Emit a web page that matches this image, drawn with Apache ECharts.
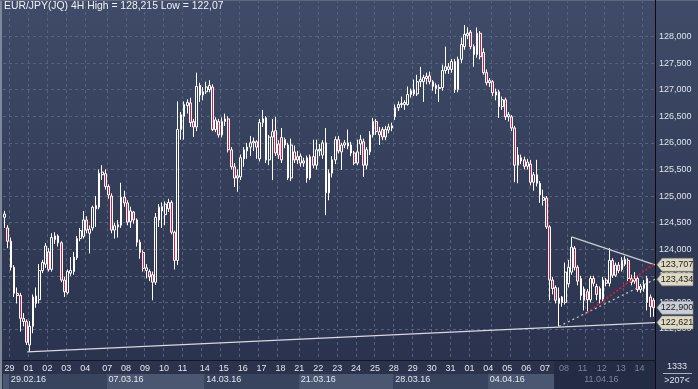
<!DOCTYPE html>
<html><head><meta charset="utf-8">
<script src="https://cdn.jsdelivr.net/npm/echarts@6/dist/echarts.min.js"></script>
<style>
html,body{margin:0;padding:0;width:698px;height:389px;overflow:hidden;background:linear-gradient(#3f4b68,#29314b);}
#c{width:698px;height:389px;}
</style></head><body><div id="c"></div>
<script>
// ---- data ----
const days = ['29.02.16','01.03.16','02.03.16','03.03.16','04.03.16','07.03.16','08.03.16','09.03.16','10.03.16','11.03.16',
  '14.03.16','15.03.16','16.03.16','17.03.16','18.03.16','21.03.16','22.03.16','23.03.16','24.03.16','25.03.16',
  '28.03.16','29.03.16','30.03.16','31.03.16','01.04.16','04.04.16','05.04.16','06.04.16','07.04.16','08.04.16',
  '11.04.16','12.04.16','13.04.16','14.04.16'];
const barsPerDay = [6,6,6,6,7,6,6,6,6,7,6,6,6,6,6,6,6,6,6,6,6,6,6,6,6,6,6,6,6,6,6,6,6,7];
// [open, close, low, high]
const candles = [
[124.60,124.66,124.40,124.72],[124.40,124.15,124.02,124.45],[124.15,123.66,123.60,124.22],[123.66,123.17,123.10,123.70],
[123.17,123.13,122.98,123.28],[123.13,122.70,122.45,123.18],[122.70,122.64,122.55,122.80],[122.64,122.25,122.20,122.68],
[122.20,122.55,122.07,122.65],[122.55,123.10,122.42,123.15],[122.98,123.12,122.90,123.28],[123.05,123.60,122.98,123.72],
[123.60,123.75,123.55,123.80],[123.72,124.06,123.65,124.12],[123.95,123.62,123.58,124.02],[123.62,124.22,123.58,124.30],
[124.18,124.25,124.10,124.32],[124.25,124.12,124.05,124.28],[124.12,123.42,123.38,124.15],[123.42,123.20,123.10,123.48],
[123.18,123.58,123.15,123.62],[123.55,123.60,123.50,123.85],[123.58,123.85,123.52,123.95],[123.84,124.20,123.80,124.25],
[124.20,124.35,124.15,124.40],[124.24,124.55,124.20,124.72],[124.55,124.36,124.30,124.62],[124.30,124.38,123.92,124.45],
[124.40,124.79,124.35,124.82],[124.76,124.82,124.42,125.00],[124.79,125.43,124.75,125.50],[125.40,125.45,125.30,125.58],
[125.42,125.18,125.12,125.50],[125.18,125.02,124.95,125.22],[125.00,124.36,124.30,125.05],[124.36,124.44,124.20,124.50],
[124.42,124.46,124.22,124.55],[124.45,124.98,124.40,125.25],[124.98,124.87,124.80,125.10],[124.87,124.51,124.45,124.92],
[124.52,124.72,124.40,124.80],[124.70,124.55,124.48,124.72],[124.55,124.13,124.05,124.58],[124.13,123.94,123.82,124.18],
[123.94,123.64,123.58,123.98],[123.60,123.65,123.45,123.72],[123.58,123.48,123.40,123.62],[123.52,123.38,123.04,123.58],
[123.38,124.60,123.33,124.68],[124.55,124.79,124.42,124.85],[124.72,124.80,124.40,124.88],[124.65,124.85,124.45,124.90],
[124.76,124.88,124.70,124.95],[124.88,124.32,124.28,124.92],[124.32,123.79,123.62,124.35],[123.79,126.25,123.70,126.78],
[126.25,126.53,126.06,126.58],[126.50,126.72,126.06,126.78],[126.70,126.76,126.55,126.82],[126.75,126.38,126.30,126.85],
[126.40,126.30,126.11,126.45],[126.30,127.06,126.22,127.32],[127.08,126.90,126.77,127.13],[126.90,126.96,126.80,127.05],
[126.96,127.05,126.92,127.15],[127.00,127.08,126.95,127.18],[127.05,126.25,126.22,127.10],[126.25,126.43,126.20,126.48],
[126.40,126.15,126.10,126.45],[126.15,126.40,126.10,126.48],[126.40,126.45,126.32,126.55],[126.45,125.87,125.82,126.50],
[125.87,125.55,125.50,125.92],[125.55,125.34,125.17,125.62],[125.34,125.38,125.08,125.50],[125.36,125.72,125.30,125.78],
[125.70,125.87,125.55,125.92],[125.85,125.92,125.70,126.00],[125.92,126.00,125.75,126.13],[126.00,126.03,125.85,126.10],
[126.02,125.92,125.70,126.05],[125.70,126.38,125.65,126.45],[126.38,126.45,126.30,126.62],[126.47,125.68,125.62,126.50],
[125.68,126.11,125.58,126.15],[126.11,126.21,125.30,126.45],[126.23,125.81,125.75,126.49],[125.98,125.77,125.70,126.05],
[126.10,125.68,125.62,126.28],[125.96,126.06,125.90,126.10],[125.96,125.34,125.30,126.00],[125.34,125.96,125.28,126.08],
[125.83,125.68,125.62,125.95],[125.68,125.74,125.60,125.85],[125.62,125.75,125.55,125.80],[125.66,125.62,125.55,125.72],
[125.72,125.34,125.25,125.76],[125.34,125.74,125.30,125.78],[125.74,125.58,125.52,126.06],[125.58,125.87,125.50,126.06],
[125.85,125.88,125.75,125.98],[125.77,126.00,125.70,126.05],[126.00,125.06,124.64,126.28],[125.06,125.43,124.92,125.50],
[125.43,125.68,125.35,125.75],[125.68,126.06,125.60,126.12],[126.06,125.85,125.80,126.13],[125.83,125.96,125.49,126.00],
[125.96,126.00,125.90,126.05],[126.00,125.94,125.88,126.25],[125.96,125.81,125.75,126.02],[125.81,125.62,125.58,125.85],
[125.62,125.83,125.58,126.06],[125.98,126.06,125.77,126.15],[126.02,125.58,125.36,126.08],[125.58,125.87,125.50,125.92],
[125.83,126.15,125.77,126.22],[126.15,126.40,126.10,126.47],[126.40,126.21,126.15,126.45],[126.15,126.21,125.96,126.30],
[126.25,126.11,126.05,126.30],[126.11,126.25,126.05,126.32],[126.24,126.30,126.18,126.36],[126.28,126.32,126.22,126.38],
[126.49,126.66,126.43,126.72],[126.66,126.72,126.60,126.78],[126.72,126.74,126.66,126.87],[126.72,126.76,126.62,126.80],
[126.72,126.91,126.70,127.06],[126.98,126.91,126.85,127.02],[126.92,127.00,126.88,127.19],[126.92,127.15,126.88,127.28],
[127.15,127.19,127.05,127.43],[127.15,127.23,126.77,127.28],[127.21,127.25,127.10,127.32],[127.26,127.15,127.10,127.34],
[127.15,127.06,126.98,127.18],[127.08,127.02,126.92,127.12],[127.02,127.04,126.77,127.10],[127.04,127.36,126.98,127.47],
[127.36,127.43,127.30,127.81],[127.38,127.43,127.30,127.50],[127.38,127.53,127.32,127.58],[127.53,127.00,126.94,127.58],
[127.00,127.57,126.95,127.62],[127.57,127.85,127.50,127.98],[127.81,128.04,127.75,128.215],[128.02,128.06,127.95,128.17],
[128.08,127.81,127.76,128.12],[127.81,127.66,127.43,127.85],[127.66,128.06,127.60,128.17],[128.06,127.62,127.57,128.10],
[127.70,127.32,127.28,127.78],[127.32,127.13,127.08,127.38],[127.13,127.17,127.05,127.22],[127.15,126.94,126.88,127.18],
[126.96,126.90,126.80,127.02],[126.96,126.68,126.47,127.00],[126.68,126.81,126.62,126.87],[126.81,126.49,126.43,126.85],
[126.49,126.53,126.40,126.58],[126.49,126.28,126.22,126.52],[126.28,125.58,125.26,126.32],[125.58,125.77,125.24,125.92],
[125.72,125.66,125.60,125.78],[125.68,125.56,125.50,125.74],[125.56,125.64,125.50,125.70],[125.60,125.26,125.20,125.68],
[125.26,125.40,125.10,125.45],[125.40,125.24,125.18,125.68],[125.24,125.02,124.87,125.28],[124.92,124.97,124.82,125.12],
[124.96,124.42,124.38,125.00],[124.42,123.42,123.04,124.45],[123.42,123.26,123.15,123.48],[123.28,123.04,122.98,123.32],
[122.98,123.08,122.55,123.28],[123.10,123.00,122.92,123.12],[123.00,123.57,122.96,123.75],[123.35,123.66,123.28,123.80],
[123.57,124.04,123.52,124.23],[124.02,123.66,123.60,124.06],[123.66,123.40,123.32,123.70],[123.45,123.13,123.04,123.50],
[123.04,123.25,122.85,123.30],[123.20,123.05,122.81,123.25],[123.05,123.45,123.00,123.50],[123.45,123.36,123.30,123.50],
[123.30,123.15,123.04,123.35],[123.26,123.06,122.98,123.30],[123.06,123.42,123.02,123.48],[123.42,123.36,123.30,123.46],
[123.36,123.79,123.30,124.02],[123.79,123.51,123.46,123.83],[123.51,123.70,123.48,123.75],[123.70,123.60,123.55,123.76],
[123.62,123.79,123.58,123.85],[123.72,123.81,123.68,123.87],[123.79,123.45,123.40,123.83],[123.45,123.38,123.32,123.52],
[123.40,123.45,123.35,123.57],[123.45,123.24,123.20,123.50],[123.24,123.30,123.18,123.35],[123.26,123.34,123.20,123.42],
[123.45,123.00,122.85,123.50],[123.10,122.92,122.72,123.15],[123.04,122.90,122.73,123.08]
];
// trend lines: [bar position, price]
const supportLine = [[7.2, 122.07], [206.5, 122.621]];
const upperLine   = [[180, 124.23], [206.5, 123.707]];
const lowerLine   = [[176, 122.55], [206.5, 123.434]];
const redLine     = [[185, 122.81], [206.5, 123.74]];
const yTickMin = 122.5, yTickMax = 128.0, yTickStep = 0.5;
const titleText = 'EUR/JPY(JQ) 4H High = 128,215 Low = 122,07';

// ---- derived ----
const categories = [], dayStart = new Set(), weekStarts = [];
let n = 0;
days.forEach((d, di) => {
  const [dd, mm, yy] = d.split('.').map(Number);
  const isMon = new Date(2000 + yy, mm - 1, dd).getDay() === 1;
  for (let k = 0; k < barsPerDay[di]; k++) {
    if (k === 0) { dayStart.add(n); if (isMon || di === 0) weekStarts.push(n); }
    categories.push(d + ' ' + k);
    n++;
  }
});
const catIndex = {}; categories.forEach((c, i) => catIndex[c] = i);
const dimFrom = 175;
const weekLabelIdx = new Set(weekStarts.map(w => w + 2));
const dateAreaBounds = new Set([0, ...weekStarts.slice(0, -1).map(w => w + 2), dimFrom]);
const vGrid = new Set();
for (let k = 0; ; k++) { const i = Math.round(2 + k * 6.1); if (i >= categories.length) break; vGrid.add(i); }
const fmt = v => v.toFixed(3).replace('.', ',');
const last = candles[candles.length - 1][1];

const FONT = 'Liberation Sans';
const txt = '#e2e6ee', dim = '#7b859a';
const overlay = '#232c44';
const gridL = 3, gridR = 43;

const tag = (v, bg) => ({
  coord: [categories.length - 0.5, v], value: fmt(v),
  itemStyle: { color: bg, borderColor: '#8f8f84', borderWidth: 0.5 }
});

const chart = echarts.init(document.getElementById('c'), null, { renderer: 'canvas' });
chart.setOption({
  animation: false,
  backgroundColor: 'transparent',
  title: { text: titleText, left: 4, top: 1.5, padding: 0,
    textStyle: { color: '#eef1f6', fontSize: 10.4, fontWeight: 'normal', fontFamily: FONT } },
  grid: [
    { left: gridL, right: gridR, top: 0, height: 360, outerBoundsMode: 'none' },
    { left: gridL, right: gridR, top: 36.5, height: 292.5, outerBoundsMode: 'none' },
    { left: gridL, right: gridR, top: 374, height: 15, outerBoundsMode: 'none' },
    { left: gridL, right: gridR, top: 360, height: 14, outerBoundsMode: 'none' }
  ],
  xAxis: [
    { type: 'category', gridIndex: 0, data: categories, boundaryGap: true, position: 'bottom',
      axisLine: { show: true, onZero: false, lineStyle: { color: '#131826', width: 1 } },
      axisTick: { show: false }, axisLabel: { show: false },
      splitLine: { show: true, interval: (i) => vGrid.has(i), lineStyle: { color: '#56617d', type: [3, 3], width: 1 } } },
    { type: 'value', gridIndex: 0, min: -0.5, max: categories.length - 0.5, show: false },
    { type: 'value', gridIndex: 1, min: 0, max: 1, show: false },
    { type: 'category', gridIndex: 2, data: categories, boundaryGap: true, position: 'top',
      axisLine: { show: false, onZero: false }, axisTick: { show: false },
      axisLabel: { inside: true, margin: 1, align: 'left', fontSize: 9, fontFamily: FONT,
        interval: (i) => weekLabelIdx.has(i),
        formatter: v => v.split(' ')[0],
        color: v => catIndex[v] >= dimFrom ? dim : txt },
      splitArea: { show: true, interval: (i) => dateAreaBounds.has(i),
        areaStyle: { color: ['#4b5771', '#38435d', '#4b5771', '#38435d', '#4b5771', '#38435d', '#4b5771', overlay] } },
      splitLine: { show: false } },
    { type: 'category', gridIndex: 3, data: categories, boundaryGap: true, position: 'top',
      axisLine: { show: false, onZero: false }, axisTick: { show: false },
      axisLabel: { inside: true, margin: 4, align: 'left', fontSize: 9, fontFamily: FONT,
        interval: (i) => dayStart.has(i),
        formatter: v => v.slice(0, 2),
        color: v => catIndex[v] >= dimFrom ? dim : txt },
      splitArea: { show: true, interval: (i) => i === 0 || i === dimFrom,
        areaStyle: { color: ['rgba(0,0,0,0)', overlay] } },
      splitLine: { show: false } }
  ],
  yAxis: [
    { type: 'value', gridIndex: 0, position: 'right', min: 121.917, max: 128.686, scale: true,
      axisLine: { show: true, onZero: false, lineStyle: { color: '#0a0c12', width: 1 } },
      axisTick: { show: false }, axisLabel: { show: false }, splitLine: { show: false } },
    { type: 'value', gridIndex: 1, position: 'right', min: yTickMin, max: yTickMax, interval: yTickStep,
      axisLine: { show: false, onZero: false }, axisTick: { show: false },
      axisLabel: { margin: 4, color: '#dfe3eb', fontSize: 9, fontFamily: FONT, formatter: fmt,
        showMinLabel: true, showMaxLabel: true },
      splitLine: { show: true, lineStyle: { color: '#56617d', type: [3, 3], width: 1 } } },
    { type: 'value', gridIndex: 2, position: 'right', min: 0, max: 1,
      axisLine: { show: true, onZero: false, lineStyle: { color: '#0a0c12', width: 1 } },
      axisTick: { show: false }, axisLabel: { show: false }, splitLine: { show: false } },
    { type: 'value', gridIndex: 3, position: 'right', min: 0, max: 1,
      axisLine: { show: true, onZero: false, lineStyle: { color: '#0a0c12', width: 1 } },
      axisTick: { show: false }, axisLabel: { show: false }, splitLine: { show: false } }
  ],
  series: [
    { type: 'candlestick', xAxisIndex: 0, yAxisIndex: 0, data: candles, barWidth: 2.2, silent: true,
      itemStyle: { color: 'rgba(0,0,0,0)', color0: '#e3173f', borderColor: '#ffffff', borderColor0: '#ffffff', borderWidth: 1 } },
    { type: 'line', xAxisIndex: 1, yAxisIndex: 0, data: supportLine, symbol: 'none', silent: true,
      lineStyle: { color: '#d6d9e0', width: 1.3 },
      markPoint: {
        symbol: 'path://M0,6.5L5,0L36,0L36,13L5,13Z', symbolSize: [36, 13], symbolOffset: [20, 0], silent: true,
        label: { show: true, position: 'inside', offset: [2, 0], color: '#1b1b1b', fontSize: 9, fontFamily: FONT,
          formatter: p => p.value },
        data: [
          tag(upperLine[1][1], '#ddd9c3'),
          tag(lowerLine[1][1], '#ddd9c3'),
          tag(last, '#c9ced9'),
          tag(supportLine[1][1], '#ddd9c3')
        ]
      } },
    { type: 'line', xAxisIndex: 1, yAxisIndex: 0, data: upperLine, symbol: 'none', silent: true,
      lineStyle: { color: '#c9ccd4', width: 1.3 } },
    { type: 'line', xAxisIndex: 1, yAxisIndex: 0, data: lowerLine, symbol: 'none', silent: true,
      lineStyle: { color: '#c8ccd4', width: 1.2, type: [2, 3] } },
    { type: 'line', xAxisIndex: 1, yAxisIndex: 0, data: redLine, symbol: 'none', silent: true,
      lineStyle: { color: '#e8163c', width: 1.6, type: [2, 2] } }
  ],
  graphic: [
    { type: 'rect', shape: { x: 0, y: 0, width: 2, height: 389 }, style: { fill: '#7e889b' }, silent: true },
    { type: 'rect', shape: { x: 0, y: 0, width: 698, height: 1 }, style: { fill: '#5d667c' }, silent: true },
    { type: 'text', style: { text: '1333', x: 677, y: 366.5, align: 'center', verticalAlign: 'middle',
        fill: '#dfe3eb', font: '9px "Liberation Sans"' }, silent: true },
    { type: 'line', shape: { x1: 663, y1: 373.5, x2: 692, y2: 373.5 }, style: { stroke: '#a9b1c1', lineWidth: 1 }, silent: true },
    { type: 'text', style: { text: '>' + candles.length + '<', x: 677, y: 380.5, align: 'center', verticalAlign: 'middle',
        fill: '#dfe3eb', font: '9px "Liberation Sans"' }, silent: true }
  ]
});
</script></body></html>
